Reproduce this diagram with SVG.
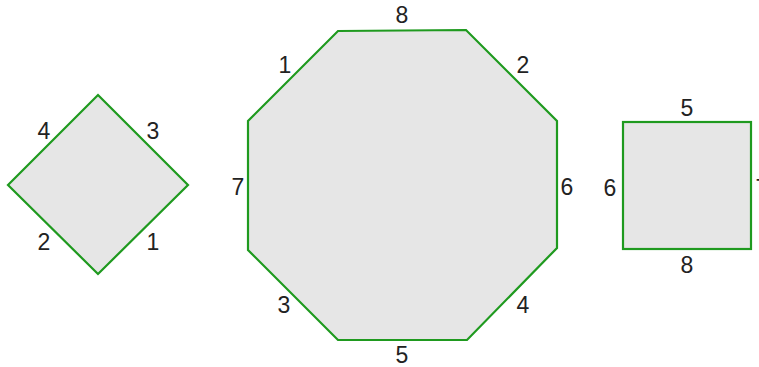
<svg xmlns="http://www.w3.org/2000/svg" width="759" height="367" viewBox="0 0 759 367">
<style>
.shape{fill:#e6e6e6;stroke:#1f9a1f;stroke-width:2.2;stroke-linejoin:miter}
.lbl{font-family:"Liberation Sans",Arial,sans-serif;font-size:23px;fill:#222;text-anchor:middle}
</style>
<rect width="759" height="367" fill="#ffffff"/>
<g id="diamond">
<polygon class="shape" points="98,95 188,185 98,274 8,185"/>
<text class="lbl" x="44" y="139">4</text>
<text class="lbl" x="153" y="139">3</text>
<text class="lbl" x="44" y="250">2</text>
<text class="lbl" x="153" y="250">1</text>
</g>
<g id="octagon">
<polygon class="shape" points="338,31 466,30 557,121 557,248 467,340 338,340 248,250 248,121"/>
<text class="lbl" x="402" y="23">8</text>
<text class="lbl" x="285" y="73">1</text>
<text class="lbl" x="523" y="73">2</text>
<text class="lbl" x="238" y="195">7</text>
<text class="lbl" x="567" y="195">6</text>
<text class="lbl" x="284" y="313">3</text>
<text class="lbl" x="523" y="313">4</text>
<text class="lbl" x="402" y="363">5</text>
</g>
<g id="square">
<rect class="shape" x="623" y="122" width="128" height="127"/>
<text class="lbl" x="687" y="116">5</text>
<text class="lbl" x="610" y="196">6</text>
<text class="lbl" x="762" y="196">7</text>
<text class="lbl" x="687" y="273">8</text>
</g>
<g id="connectors"/>
</svg>
